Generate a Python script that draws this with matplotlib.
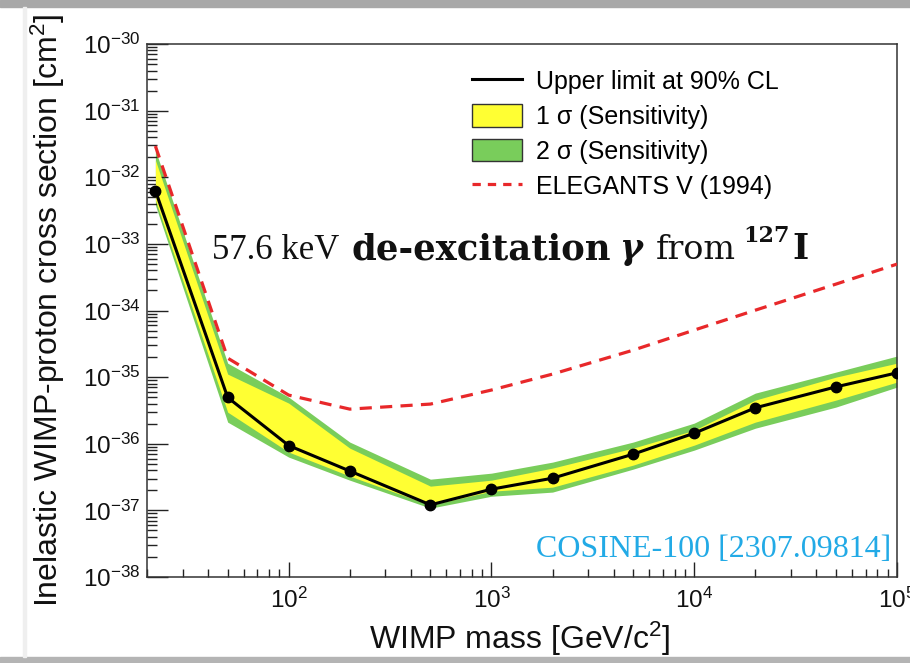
import numpy as np
import matplotlib.pyplot as plt
from matplotlib.ticker import LogLocator, NullFormatter
from matplotlib.patches import Rectangle, Patch
from matplotlib.lines import Line2D
from matplotlib.transforms import ScaledTranslation

plt.rcParams['font.family'] = ['Liberation Sans', 'DejaVu Sans']
plt.rcParams['mathtext.fontset'] = 'custom'
plt.rcParams['mathtext.rm'] = 'Liberation Sans'
plt.rcParams['mathtext.it'] = 'Liberation Sans:italic'
plt.rcParams['mathtext.bf'] = 'Liberation Sans:bold'

# WIMP mass [GeV/c^2]
mass = [22, 50, 100, 200, 500, 1e3, 2e3, 5e3, 1e4, 2e4, 5e4, 1e5]
# upper limit at 90% CL [cm^2]
upper_limit = [6.3e-33, 4.95e-36, 9.4e-37, 3.9e-37, 1.21e-37, 2.08e-37,
               3.04e-37, 6.98e-37, 1.44e-36, 3.46e-36, 7.14e-36, 1.16e-35]
# sensitivity bands
sig1_hi = [1.81e-32, 1.11e-35, 4.07e-36, 8.6e-37, 2.31e-37, 2.84e-37,
           4.31e-37, 8.6e-37, 1.60e-36, 4.52e-36, 1.00e-35, 1.62e-35]
sig1_lo = [4.55e-33, 2.98e-36, 7.5e-37, 3.27e-37, 1.20e-37, 1.94e-37,
           2.23e-37, 4.78e-37, 9.53e-37, 2.11e-36, 4.52e-36, 8.41e-36]
sig2_hi = [2.56e-32, 1.62e-35, 5.01e-36, 1.06e-36, 2.94e-37, 3.62e-37,
           5.30e-37, 1.06e-36, 2.04e-36, 5.75e-36, 1.19e-35, 2.07e-35]
sig2_lo = [3.83e-33, 2.11e-36, 6.3e-37, 2.84e-37, 1.08e-37, 1.63e-37,
           1.88e-37, 4.16e-37, 8.02e-37, 1.71e-36, 3.55e-36, 7.08e-36]
# ELEGANTS V (1994)
elegants_mass = [22, 50, 100, 200, 500, 1e3, 2e3, 5e3, 1e4, 2e4, 5e4, 1e5]
elegants_limit = [2.94e-32, 1.93e-35, 5.37e-36, 3.31e-36, 3.94e-36, 6.4e-36,
                  1.11e-35, 2.54e-35, 5.08e-35, 1.01e-34, 2.49e-34, 4.97e-34]

YELLOW = '#ffff33'
GREEN = '#79cd5b'
RED = '#e8282a'

W, H = 910, 663
fig = plt.figure(figsize=(W / 100, H / 100), dpi=100)
ax = fig.add_axes([147 / W, 86 / H, 750 / W, 533 / H])

# slide frame (screenshot border)
fig.patches.append(Rectangle((0, 1 - 7 / H), 1, 7 / H, transform=fig.transFigure,
                             color='#a8a8a8', zorder=-10))
fig.patches.append(Rectangle((0, 0), 1, 6 / H, transform=fig.transFigure,
                             color='#b4b4b4', zorder=-10))
fig.patches.append(Rectangle((23 / W, 6 / H), 3 / W, 1 - 13 / H, transform=fig.transFigure,
                             color='#efefef', zorder=-10))

ax.fill_between(mass, sig2_lo, sig2_hi, color=GREEN, lw=0, zorder=1)
ax.fill_between(mass, sig1_lo, sig1_hi, color=YELLOW, lw=0, zorder=2)
ax.plot(mass, upper_limit, color='black', lw=2.2, marker='o', ms=7.5, zorder=4)
ax.plot(elegants_mass, elegants_limit, color=RED, lw=2.3, dashes=(3.8, 2.6), zorder=5)

ax.set_xscale('log')
ax.set_yscale('log')
ax.set_xlim(20, 1e5)
ax.set_ylim(1e-38, 1e-30)

ax.xaxis.set_major_locator(LogLocator(base=10, numticks=20))
ax.yaxis.set_major_locator(LogLocator(base=10, numticks=20))
ax.xaxis.set_minor_locator(LogLocator(base=10, subs=np.arange(2, 10), numticks=100))
ax.yaxis.set_minor_locator(LogLocator(base=10, subs=np.arange(2, 10), numticks=100))
ax.xaxis.set_minor_formatter(NullFormatter())
ax.yaxis.set_minor_formatter(NullFormatter())

ax.tick_params(axis='both', which='both', direction='in', top=False, right=False,
               colors='#222222', labelcolor='#111111', width=1.0)
ax.tick_params(axis='y', which='major', length=15, labelsize=17.5, pad=5)
ax.tick_params(axis='y', which='minor', length=7)
ax.tick_params(axis='x', which='major', length=11, labelsize=17.5, pad=8)
ax.tick_params(axis='x', which='minor', length=5.5)
for sp in ax.spines.values():
    sp.set_linewidth(1.1)
    sp.set_color('#333333')

ax.set_xlabel(r'WIMP mass [GeV/c$^{2}$]', fontsize=23, color='#111111')
ax.set_ylabel(r'Inelastic WIMP-proton cross section [cm$^{2}$]', fontsize=23, color='#111111')
ax.xaxis.set_label_coords(0.497, -0.08)
ax.yaxis.set_label_coords(-0.107, 0.5)

handles = [
    Line2D([], [], color='black', lw=2.2),
    Patch(facecolor=YELLOW, edgecolor='#333333', lw=1.0),
    Patch(facecolor=GREEN, edgecolor='#333333', lw=1.0),
    Line2D([], [], color=RED, lw=2.3, dashes=(2.6, 2.2)),
]
labels = ['Upper limit at 90% CL', '1 \u03c3 (Sensitivity)', '2 \u03c3 (Sensitivity)',
          'ELEGANTS V (1994)']
ax.legend(handles, labels, loc='upper left', bbox_to_anchor=(0.433, 0.952),
          frameon=False, fontsize=18, handlelength=2.0, handleheight=1.0,
          handletextpad=0.55, labelspacing=0.4, borderpad=0, borderaxespad=0)

# annotation "57.6 keV de-excitation gamma from 127I"
fig.canvas.draw()
renderer = fig.canvas.get_renderer()
rm_serif = ['Liberation Serif', 'DejaVu Serif']
bf_serif = ['DejaVu Serif']
pieces = [
    ('57.6 keV', rm_serif, 'normal', 'normal', 25, 0, 12),
    ('de-excitation', bf_serif, 'bold', 'normal', 25.5, 0, 8),
    ('\u03b3', bf_serif, 'bold', 'italic', 25, 0, 14),
    ('from', bf_serif, 'normal', 'normal', 24, 0, 8),
    ('127', bf_serif, 'bold', 'normal', 16, 12, 2),
    ('I', bf_serif, 'bold', 'normal', 25, 0, 0),
]
x = (212 - 147) / 750
y0 = (577 - 259) / 533
for s, fam, weight, style, size, rise, gap in pieces:
    tr = ax.transAxes + ScaledTranslation(0, rise / 72, fig.dpi_scale_trans)
    t = ax.text(x, y0, s, transform=tr, fontsize=size, fontweight=weight,
                fontstyle=style, family=fam, va='baseline', ha='left', color='#111111')
    bb = t.get_window_extent(renderer)
    x = ax.transAxes.inverted().transform((bb.x1 + gap, bb.y0))[0]

ax.text(0.992, 0.038, 'COSINE-100 [2307.09814]', transform=ax.transAxes, ha='right',
        va='baseline', fontsize=23, family=rm_serif, color='#22aae6')

fig.savefig('out.png', dpi=100)
